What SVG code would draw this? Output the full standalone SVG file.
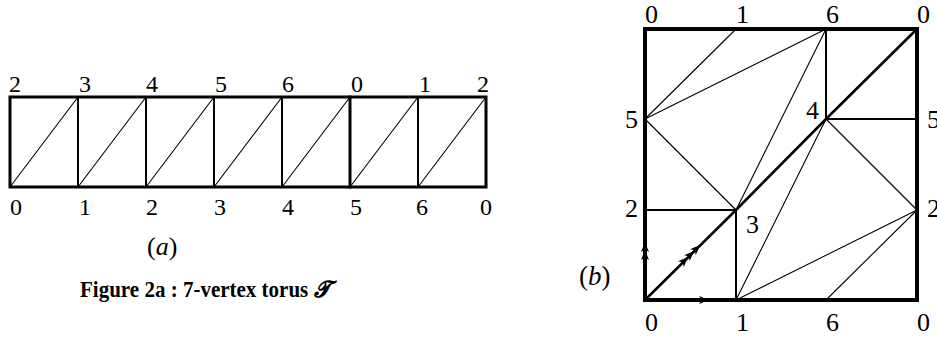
<svg xmlns="http://www.w3.org/2000/svg" xmlns:xlink="http://www.w3.org/1999/xlink" width="937" height="337" viewBox="0 0 937 337">
<style>
line, polyline, rect { stroke: #000; fill: none; stroke-linecap: square; }
.bd { stroke-width: 3.5; }
.tk { stroke-width: 2.6; stroke-linecap: round; }
.md { stroke-width: 2; }
.tn { stroke-width: 1.1; stroke-linecap: round; }
.la { font-family: "Liberation Serif", "Times New Roman", serif; font-size: 24px; fill: #000; }
.lb { font-family: "Liberation Serif", "Times New Roman", serif; font-size: 26px; fill: #000; }
.it { font-style: italic; }
.cap { font-family: "Liberation Serif", "Times New Roman", serif; font-size: 23px; font-weight: bold; fill: #000; }
</style>
<defs>
<path id="ah" d="M0,0 L-10,-4 L-7.5,0 L-10,4 Z" fill="#000"/>
</defs>

<!-- Figure (a) -->
<g id="a-connectors">
  <line class="tn" x1="10" y1="187" x2="78" y2="97"/>
  <line class="tn" x1="78" y1="187" x2="146" y2="97"/>
  <line class="tn" x1="146" y1="187" x2="214" y2="97"/>
  <line class="tn" x1="214" y1="187" x2="282" y2="97"/>
  <line class="tn" x1="282" y1="187" x2="350" y2="97"/>
  <line class="tn" x1="350" y1="187" x2="418" y2="97"/>
  <line class="tn" x1="418" y1="187" x2="486" y2="97"/>
  <line class="md" x1="78" y1="97" x2="78" y2="187"/>
  <line class="md" x1="146" y1="97" x2="146" y2="187"/>
  <line class="md" x1="214" y1="97" x2="214" y2="187"/>
  <line class="md" x1="282" y1="97" x2="282" y2="187"/>
  <line class="bd" x1="350" y1="97" x2="350" y2="187" style="stroke-width:3"/>
  <line class="md" x1="418" y1="97" x2="418" y2="187"/>
  <rect class="bd" x="10" y="97" width="476" height="90" style="stroke-width:3"/>
</g>
<g id="a-top-2"><text class="la" x="9" y="92">2</text></g>
<g id="a-top-3"><text class="la" x="79" y="92">3</text></g>
<g id="a-top-4"><text class="la" x="146" y="92">4</text></g>
<g id="a-top-5"><text class="la" x="215" y="92">5</text></g>
<g id="a-top-6"><text class="la" x="282" y="92">6</text></g>
<g id="a-top-0"><text class="la" x="351" y="92">0</text></g>
<g id="a-top-1"><text class="la" x="419" y="92">1</text></g>
<g id="a-top-2b"><text class="la" x="489" y="92" text-anchor="end">2</text></g>
<g id="a-bot-0"><text class="la" x="10" y="215">0</text></g>
<g id="a-bot-1"><text class="la" x="79" y="215">1</text></g>
<g id="a-bot-2"><text class="la" x="146" y="215">2</text></g>
<g id="a-bot-3"><text class="la" x="214" y="215">3</text></g>
<g id="a-bot-4"><text class="la" x="282" y="215">4</text></g>
<g id="a-bot-5"><text class="la" x="350" y="215">5</text></g>
<g id="a-bot-6"><text class="la" x="416" y="215">6</text></g>
<g id="a-bot-0b"><text class="la" x="480" y="215">0</text></g>
<g id="a-label"><text class="la" x="147" y="255" style="font-size:26px">(<tspan class="it">a</tspan>)</text></g>
<g id="caption">
  <text class="cap" x="80" y="297" textLength="250" lengthAdjust="spacingAndGlyphs">Figure 2a :  7-vertex torus  <tspan class="it">𝓣</tspan></text>
</g>

<!-- Figure (b) -->
<g id="b-connectors">
  <line class="tn" x1="645" y1="119" x2="736" y2="29"/>
  <line class="tn" x1="645" y1="119" x2="826" y2="29"/>
  <line class="tn" x1="645" y1="119" x2="736" y2="210"/>
  <line class="tn" x1="826" y1="29" x2="736" y2="210"/>
  <line class="tn" x1="826" y1="119" x2="736" y2="300"/>
  <line class="tn" x1="826" y1="119" x2="917" y2="210"/>
  <line class="tn" x1="736" y1="300" x2="917" y2="210"/>
  <line class="tn" x1="826" y1="300" x2="917" y2="210"/>
  <line class="md" x1="826" y1="29" x2="826" y2="119"/>
  <line class="md" x1="826" y1="119" x2="917" y2="119"/>
  <line class="md" x1="645" y1="210" x2="736" y2="210"/>
  <line class="md" x1="736" y1="210" x2="736" y2="300"/>
  <polyline class="tk" points="645,300 736,210 826,119 917,29"/>
  <rect class="bd" x="645" y="29" width="272" height="271" style="stroke-width:4"/>
  <use xlink:href="#ah" transform="translate(645,242) rotate(-90)"/>
  <use xlink:href="#ah" transform="translate(645,250) rotate(-90)"/>
  <use xlink:href="#ah" transform="translate(709,300)"/>
  <use xlink:href="#ah" transform="translate(700,245) rotate(-45)"/>
  <use xlink:href="#ah" transform="translate(694,251) rotate(-45)"/>
  <use xlink:href="#ah" transform="translate(688,257) rotate(-45)"/>
</g>
<g id="b-top-0"><text class="lb" x="645" y="23">0</text></g>
<g id="b-top-1"><text class="lb" x="736" y="23">1</text></g>
<g id="b-top-6"><text class="lb" x="826" y="23">6</text></g>
<g id="b-top-0b"><text class="lb" x="917" y="23">0</text></g>
<g id="b-left-5"><text class="lb" x="638" y="128" text-anchor="end">5</text></g>
<g id="b-left-2"><text class="lb" x="638" y="217" text-anchor="end">2</text></g>
<g id="b-right-5"><text class="lb" x="927" y="128">5</text></g>
<g id="b-right-2"><text class="lb" x="927" y="217">2</text></g>
<g id="b-v4"><text class="lb" x="819" y="119" text-anchor="end">4</text></g>
<g id="b-v3"><text class="lb" x="746" y="233">3</text></g>
<g id="b-bot-0"><text class="lb" x="645" y="331">0</text></g>
<g id="b-bot-1"><text class="lb" x="736" y="331">1</text></g>
<g id="b-bot-6"><text class="lb" x="826" y="331">6</text></g>
<g id="b-bot-0b"><text class="lb" x="917" y="331">0</text></g>
<g id="b-label"><text class="lb" x="579" y="285" style="font-size:27px">(<tspan class="it">b</tspan>)</text></g>
</svg>
